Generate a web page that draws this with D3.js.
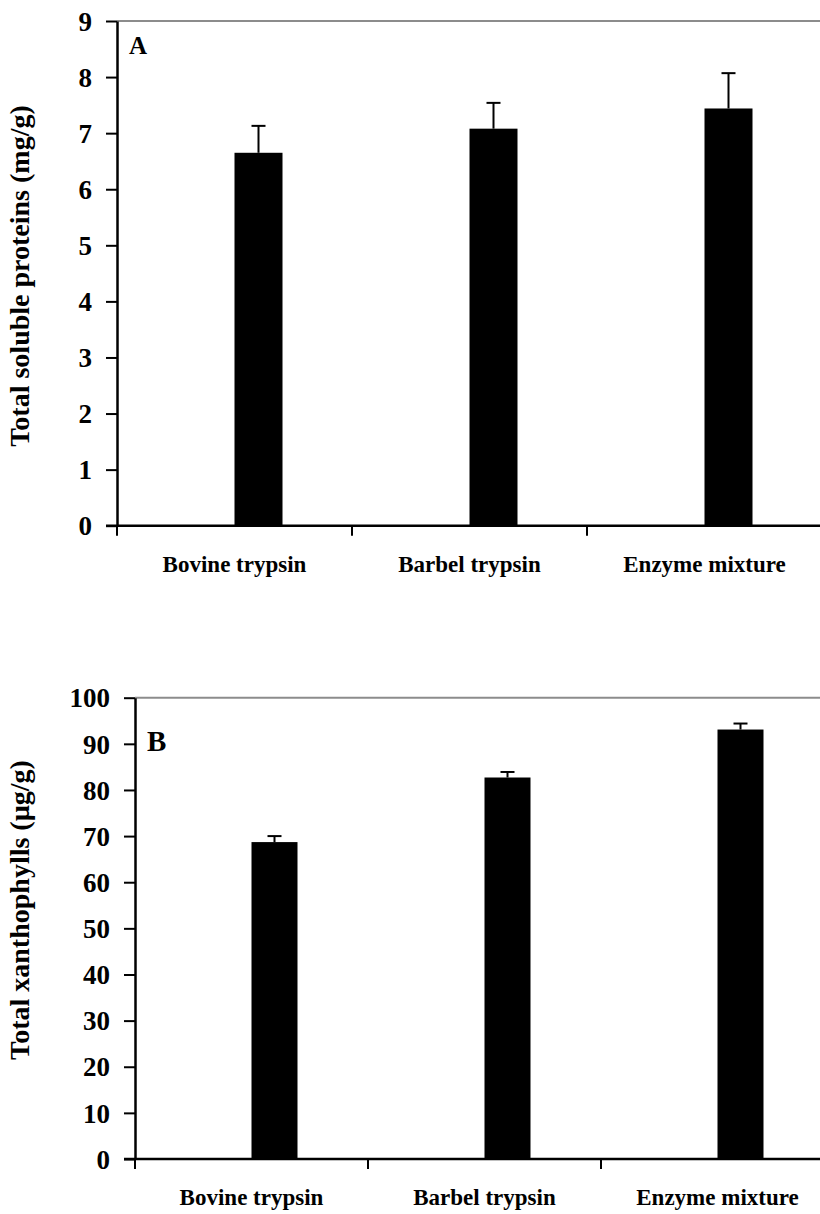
<!DOCTYPE html>
<html>
<head>
<meta charset="utf-8">
<script src="https://cdn.jsdelivr.net/npm/d3@7"></script>
<style>
body { margin: 0; background: #fff; }
svg text { font-family: "Liberation Serif", "Times New Roman", serif; font-weight: bold; fill: #000; }
</style>
</head>
<body>
<svg width="820" height="1214"></svg>
<script>
const categories = ["Bovine trypsin", "Barbel trypsin", "Enzyme mixture"];
const proteins = [6.65, 7.08, 7.44];
const proteinsErr = [0.48, 0.46, 0.63];
const xantho = [68.7, 82.7, 93.1];
const xanthoErr = [1.3, 1.2, 1.3];
const ticksA = [0, 1, 2, 3, 4, 5, 6, 7, 8, 9];
const ticksB = [0, 10, 20, 30, 40, 50, 60, 70, 80, 90, 100];

const svg = d3.select("svg");

function drawPanel(p) {
  const g = svg.append("g");
  const x = d3.scaleBand().domain(categories).range([p.left, p.left + p.band * 3]);
  const y = d3.scaleLinear().domain([0, p.max]).range([p.bottom, p.top]);

  // top border line (grey)
  g.append("line")
    .attr("x1", p.left).attr("x2", 820)
    .attr("y1", y(p.max)).attr("y2", y(p.max))
    .attr("stroke", "#8c8c8c").attr("stroke-width", 2);

  // bars (drawn to the right of each category centre)
  g.selectAll(".bar").data(p.values).enter().append("rect")
    .attr("x", (d, i) => x(categories[i]) + x.bandwidth() / 2)
    .attr("width", p.barW)
    .attr("y", d => y(d))
    .attr("height", d => y(0) - y(d))
    .attr("fill", "#000");

  // error bars
  const cx = i => x(categories[i]) + x.bandwidth() / 2 + p.barW / 2;
  g.selectAll(".err").data(p.values).enter().append("line")
    .attr("x1", (d, i) => cx(i)).attr("x2", (d, i) => cx(i))
    .attr("y1", d => y(d)).attr("y2", (d, i) => y(d + p.err[i]))
    .attr("stroke", "#000").attr("stroke-width", 2);
  g.selectAll(".cap").data(p.values).enter().append("line")
    .attr("x1", (d, i) => cx(i) - 7).attr("x2", (d, i) => cx(i) + 7)
    .attr("y1", (d, i) => y(d + p.err[i])).attr("y2", (d, i) => y(d + p.err[i]))
    .attr("stroke", "#000").attr("stroke-width", 2);

  // y axis
  const ya = g.append("g").attr("transform", `translate(${p.left},0)`)
    .call(d3.axisLeft(y).tickValues(p.ticks).tickSize(11).tickPadding(14).tickSizeOuter(0));
  ya.select(".domain").attr("stroke-width", 2.5);
  ya.selectAll(".tick line").attr("stroke-width", 2);
  ya.selectAll("text").style("font-size", "27px").attr("dy", "0.34em");

  // x axis
  g.append("line")
    .attr("x1", p.left - 11).attr("x2", 820)
    .attr("y1", y(0)).attr("y2", y(0))
    .attr("stroke", "#000").attr("stroke-width", 2.5);
  const xt = [0, 1, 2, 3].map(i => p.left + i * p.band);
  g.selectAll(".xt").data(xt).enter().append("line")
    .attr("x1", d => d).attr("x2", d => d)
    .attr("y1", y(0)).attr("y2", y(0) + 10)
    .attr("stroke", "#000").attr("stroke-width", 2);
  g.selectAll(".xl").data(categories).enter().append("text")
    .attr("x", d => x(d) + x.bandwidth() / 2)
    .attr("y", y(0) + 46)
    .attr("text-anchor", "middle")
    .style("font-size", "23px")
    .text(d => d);

  // panel letter
  g.append("text").attr("x", p.left + 12).attr("y", y(p.max) + p.letterDy)
    .style("font-size", p.letterSize).text(p.letter);

  // y label
  g.append("text")
    .attr("transform", `translate(29,${p.labelY}) rotate(-90)`)
    .attr("text-anchor", "middle")
    .style("font-size", "28px")
    .text(p.label);
}

drawPanel({
  left: 117, band: 235, top: 21, bottom: 525.7, max: 9, barW: 48,
  values: proteins, err: proteinsErr, ticks: ticksA,
  letter: "A", letterDy: 33, letterSize: "25px", labelY: 276,
  label: "Total soluble proteins (mg/g)"
});

drawPanel({
  left: 135, band: 233, top: 697.7, bottom: 1159, max: 100, barW: 46,
  values: xantho, err: xanthoErr, ticks: ticksB,
  letter: "B", letterDy: 53, letterSize: "29px", labelY: 910,
  label: "Total xanthophylls (µg/g)"
});
</script>
</body>
</html>
